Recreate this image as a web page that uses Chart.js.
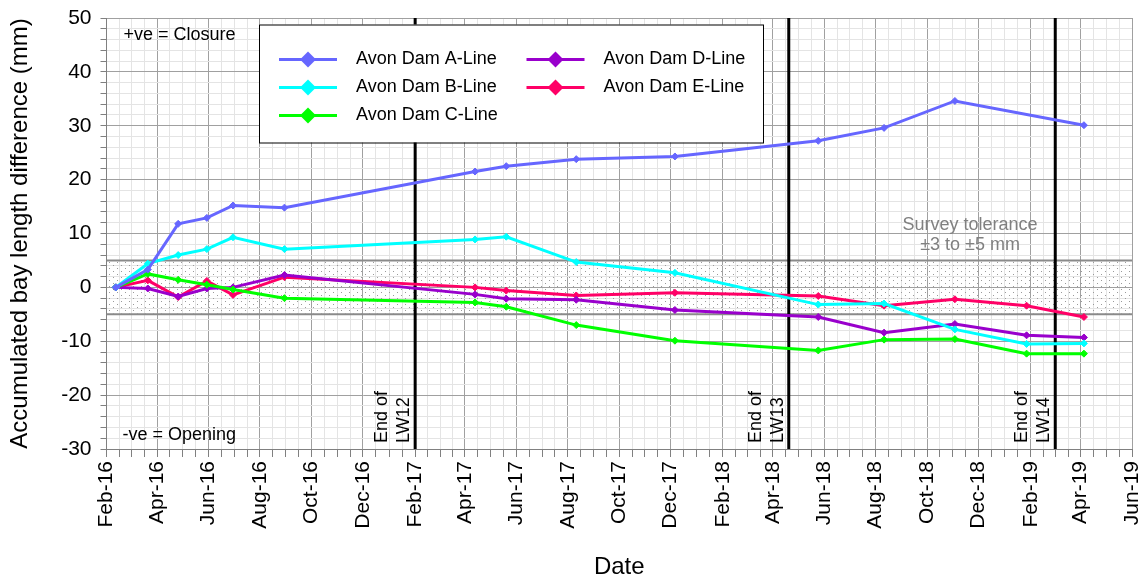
<!DOCTYPE html>
<html>
<head>
<meta charset="utf-8">
<script src="https://cdn.jsdelivr.net/npm/chart.js@4.4.1/dist/chart.umd.min.js"></script>
<style>
  html, body { margin: 0; padding: 0; background: #fff; }
  #wrap { width: 1142px; height: 582px; }
</style>
</head>
<body>
<div id="wrap"><canvas id="myChart"></canvas></div>
<script>
// survey dates and accumulated bay length differences (mm)
const surveyDates = ['2016-02-12', '2016-03-21', '2016-04-26', '2016-05-30', '2016-06-30', '2016-08-30',
  '2017-04-13', '2017-05-20', '2017-08-11', '2017-12-06', '2018-05-25', '2018-08-11', '2018-11-03',
  '2019-01-27', '2019-04-05'];
const lineA = [0, 3.3, 11.8, 12.9, 15.2, 14.8, 21.5, 22.5, 23.8, 24.3, 27.2, 29.6, 34.6, null, 30.1];
const lineB = [0, 4.4, 6.0, 7.1, 9.3, 7.1, 8.9, 9.4, 4.7, 2.7, -3.2, -3.0, -7.8, -10.5, -10.4];
const lineC = [0, 2.5, 1.4, 0.5, -0.4, -2.0, -2.8, -3.6, -7.0, -9.9, -11.7, -9.7, -9.6, -12.3, -12.3];
const lineD = [0, -0.2, -1.7, -0.2, 0.0, 2.3, -1.3, -2.1, -2.3, -4.2, -5.5, -8.4, -6.8, -8.9, -9.3];
const lineE = [0, 1.3, -1.8, 1.2, -1.4, 1.9, 0.0, -0.6, -1.5, -1.0, -1.6, -3.4, -2.2, -3.4, -5.5];

const seriesNames = ['Avon Dam A-Line', 'Avon Dam B-Line', 'Avon Dam C-Line', 'Avon Dam D-Line', 'Avon Dam E-Line'];
const seriesColors = ['#6666ff', '#00ffff', '#00ff00', '#9900cc', '#ff0066'];

// x axis: major ticks every two months
const xTickDates = ['2016-02-01', '2016-04-01', '2016-06-01', '2016-08-01', '2016-10-01', '2016-12-01',
  '2017-02-01', '2017-04-01', '2017-06-01', '2017-08-01', '2017-10-01', '2017-12-01',
  '2018-02-01', '2018-04-01', '2018-06-01', '2018-08-01', '2018-10-01', '2018-12-01',
  '2019-02-01', '2019-04-01', '2019-06-01'];
const monthNames = ['Jan', 'Feb', 'Mar', 'Apr', 'May', 'Jun', 'Jul', 'Aug', 'Sep', 'Oct', 'Nov', 'Dec'];

// longwall completion markers
const eventDates = ['2017-02-01', '2018-04-20', '2019-03-02'];
const eventLabels = ['LW12', 'LW13', 'LW14'];

const toleranceLimits = [5, -5];
const yMin = -30, yMax = 50, yMinorStep = 2, yMajorStep = 10;

const dayOf = s => Date.parse(s) / 864e5;
const xMin = dayOf(xTickDates[0]);
const xMax = dayOf(xTickDates[xTickDates.length - 1]);

const majorDays = xTickDates.map(dayOf);
const xTickValues = [];
majorDays.forEach((d, i) => {
  xTickValues.push(d);
  if (i < majorDays.length - 1) {
    const step = (majorDays[i + 1] - d) / 4;
    for (let k = 1; k < 4; k++) xTickValues.push(d + step * k);
  }
});
const majorLabel = {};
xTickDates.forEach(s => {
  const dt = new Date(s + 'T00:00:00Z');
  majorLabel[dayOf(s)] = monthNames[dt.getUTCMonth()] + '-' + String(dt.getUTCFullYear()).slice(2);
});

// dotted pattern for the tolerance band
const pc = document.createElement('canvas');
pc.width = 8; pc.height = 6;
const pctx = pc.getContext('2d');
pctx.fillStyle = '#9a9a9a';
pctx.fillRect(1, 1, 1, 1);
pctx.fillRect(5, 4, 1, 1);
const dots = pctx.createPattern(pc, 'repeat');

const surveyValues = [lineA, lineB, lineC, lineD, lineE];
const datasets = surveyValues.map((vals, i) => ({
  label: seriesNames[i],
  data: surveyDates.map((d, j) => ({ x: dayOf(d), y: vals[j] })),
  borderColor: seriesColors[i],
  backgroundColor: seriesColors[i],
  borderWidth: 3,
  pointStyle: 'rectRot',
  pointRadius: 3.5,
  pointBorderWidth: 1,
  spanGaps: true,
  order: i
}));

datasets.push({
  label: 'tol-upper',
  data: [{ x: xMin, y: toleranceLimits[0] }, { x: xMax, y: toleranceLimits[0] }],
  borderColor: '#8a8a8a', borderWidth: 2, pointRadius: 0,
  fill: '+1', backgroundColor: dots, order: 20
});
datasets.push({
  label: 'tol-lower',
  data: [{ x: xMin, y: toleranceLimits[1] }, { x: xMax, y: toleranceLimits[1] }],
  borderColor: '#8a8a8a', borderWidth: 2, pointRadius: 0, fill: false, order: 21
});
eventDates.forEach((d, i) => {
  datasets.push({
    label: 'event-' + eventLabels[i],
    data: [{ x: dayOf(d), y: yMin }, { x: dayOf(d), y: yMax }],
    borderColor: '#000', borderWidth: 3, pointRadius: 0, fill: false, order: 10
  });
});

const notes = {
  id: 'notes',
  afterDraw(chart) {
    const { ctx, chartArea: a, scales: { x, y } } = chart;
    ctx.save();
    ctx.font = '18px Arial, "Liberation Sans", sans-serif';
    ctx.fillStyle = '#000';
    ctx.textBaseline = 'middle';
    ctx.textAlign = 'left';
    ctx.fillText('+ve = Closure', a.left + 17, a.top + 17);
    ctx.fillText('-ve = Opening', a.left + 16, a.bottom - 14);

    // tolerance note
    ctx.fillStyle = '#808080';
    ctx.textAlign = 'center';
    const tx = x.getPixelForValue(dayOf('2018-11-21'));
    ctx.fillText('Survey tolerance', tx, y.getPixelForValue(11.5));
    ctx.fillText('\u00b13 to \u00b15 mm', tx, y.getPixelForValue(7.8));

    // longwall labels
    ctx.fillStyle = '#000';
    ctx.textAlign = 'left';
    eventDates.forEach((d, i) => {
      const px = x.getPixelForValue(dayOf(d));
      ctx.save();
      ctx.translate(px, a.bottom - 6);
      ctx.rotate(-Math.PI / 2);
      ctx.fillText('End of', 0, -33);
      ctx.fillText(eventLabels[i], 0, -11);
      ctx.restore();
    });

    // legend box
    const lx = 259, ly = 24.5, lw = 504, lh = 118;
    ctx.fillStyle = '#fff';
    ctx.fillRect(lx, ly, lw, lh);
    ctx.strokeStyle = '#000';
    ctx.lineWidth = 1;
    ctx.strokeRect(lx + 0.5, ly + 0.5, lw, lh);
    const cols = [[0, 1, 2], [3, 4]];
    cols.forEach((col, c) => {
      col.forEach((idx, r) => {
        const x0 = lx + 20 + c * 247.5;
        const cy = ly + 35 + r * 28;
        ctx.strokeStyle = seriesColors[idx];
        ctx.lineWidth = 3;
        ctx.beginPath();
        ctx.moveTo(x0, cy);
        ctx.lineTo(x0 + 58, cy);
        ctx.stroke();
        ctx.fillStyle = seriesColors[idx];
        ctx.beginPath();
        ctx.moveTo(x0 + 29 - 8, cy);
        ctx.lineTo(x0 + 29, cy - 8);
        ctx.lineTo(x0 + 29 + 8, cy);
        ctx.lineTo(x0 + 29, cy + 8);
        ctx.closePath();
        ctx.fill();
        ctx.fillStyle = '#000';
        ctx.textAlign = 'left';
        ctx.fillText(seriesNames[idx], x0 + 77, cy);
      });
    });
    ctx.restore();
  }
};

const tickFont = { family: 'Arial, "Liberation Sans", sans-serif', size: 21 };
const titleFont = { family: 'Arial, "Liberation Sans", sans-serif', size: 24 };

new Chart(document.getElementById('myChart'), {
  type: 'line',
  data: { datasets },
  options: {
    responsive: true,
    maintainAspectRatio: false,
    animation: false,
    layout: { padding: { top: 18, right: 10, bottom: 0, left: 0 } },
    plugins: {
      legend: { display: false },
      tooltip: { enabled: false }
    },
    scales: {
      x: {
        type: 'linear',
        min: xMin,
        max: xMax,
        afterBuildTicks: s => { s.ticks = xTickValues.map(v => ({ value: v })); },
        afterFit: s => { s.height = 133; s.paddingLeft = 0; s.paddingRight = 0; },
        ticks: {
          autoSkip: false,
          minRotation: 90,
          maxRotation: 90,
          padding: 4,
          color: '#000',
          font: tickFont,
          callback: v => majorLabel[v] || ''
        },
        grid: {
          color: c => (c.tick && majorLabel[c.tick.value]) ? '#a0a0a0' : '#e4e4e4',
          tickColor: '#808080',
          tickLength: 8
        },
        border: { color: '#808080', width: 1 },
        title: { display: true, text: 'Date', color: '#000', font: titleFont, padding: { top: 0, bottom: 0 } }
      },
      y: {
        min: yMin,
        max: yMax,
        afterFit: s => { s.width = 106.5; s.paddingTop = 0; s.paddingBottom = 0; },
        ticks: {
          stepSize: yMinorStep,
          autoSkip: false,
          padding: 9,
          color: '#000',
          font: tickFont,
          callback: v => (v % yMajorStep === 0 ? v : '')
        },
        grid: {
          color: c => (c.tick && c.tick.value % yMajorStep === 0) ? '#a0a0a0' : '#e4e4e4',
          tickColor: '#808080',
          tickLength: 6
        },
        border: { color: '#808080', width: 1 },
        title: { display: true, text: 'Accumulated bay length difference (mm)', color: '#000', font: titleFont, padding: { top: 6, bottom: 0 } }
      }
    }
  },
  plugins: [notes]
});
</script>
</body>
</html>
